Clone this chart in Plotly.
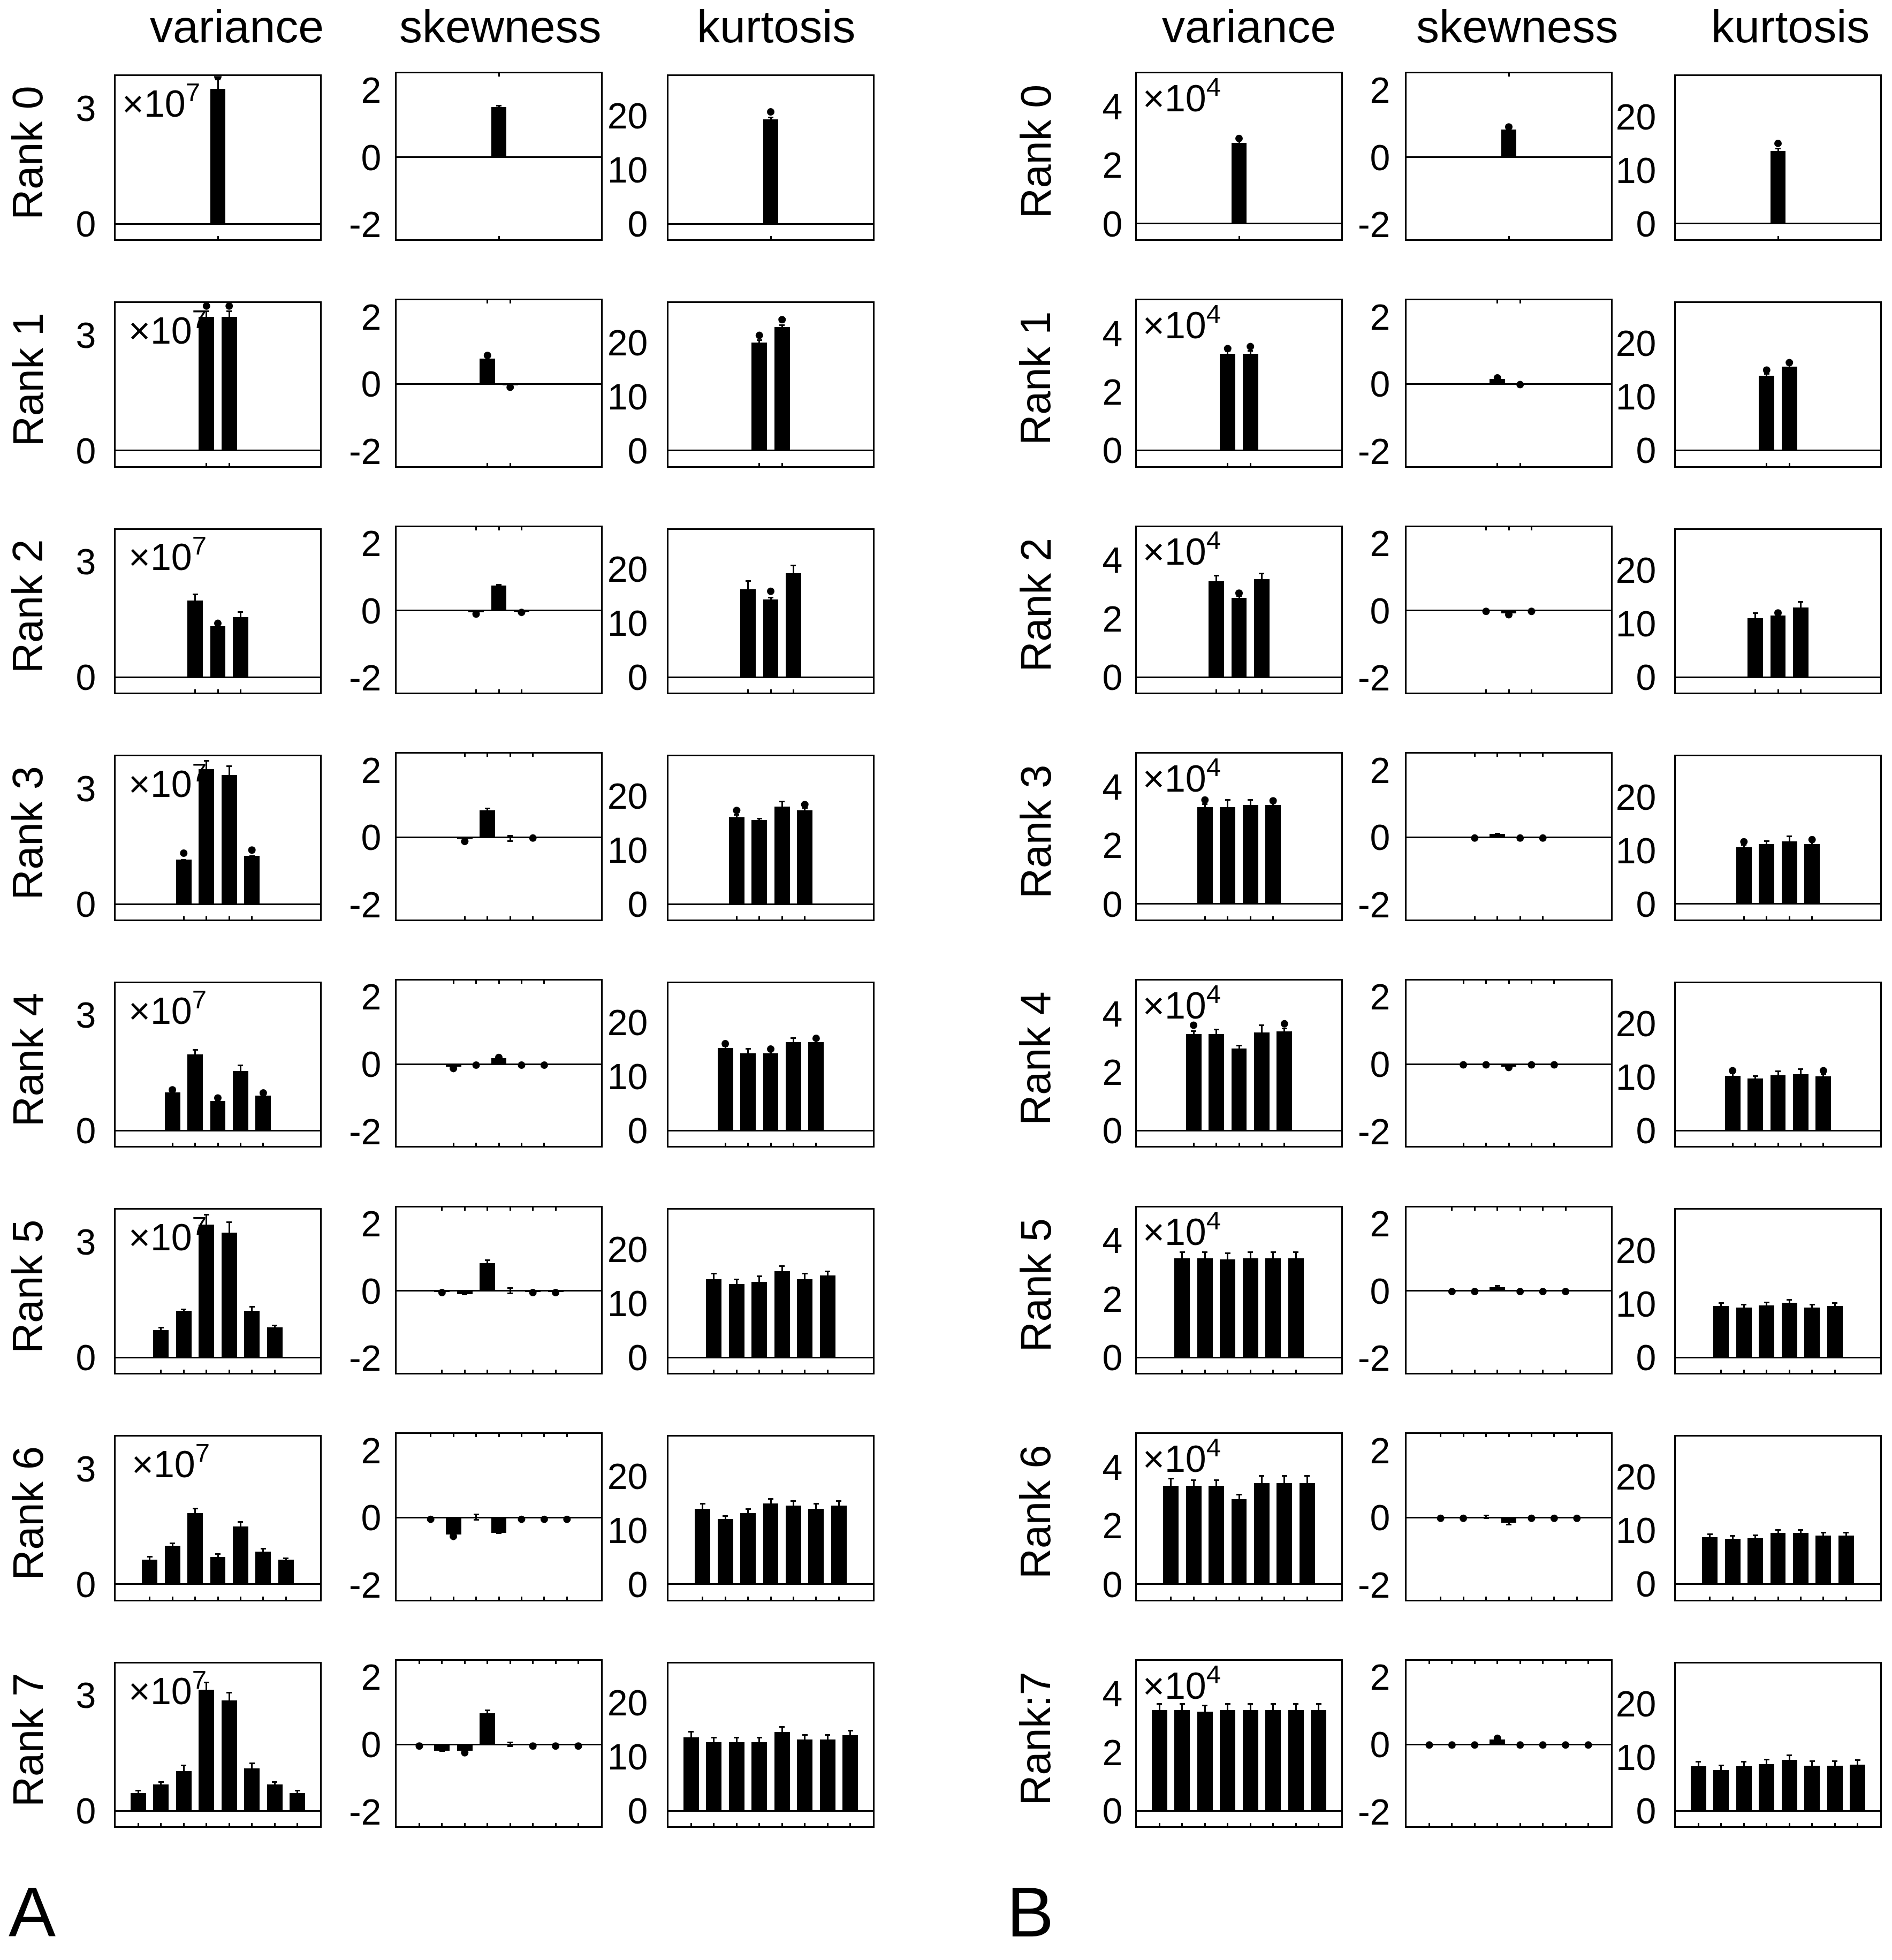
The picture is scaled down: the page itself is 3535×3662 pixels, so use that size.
import plotly.graph_objects as go

W, H = 3535, 3662

# ---------------- data ----------------
ranks_A = ["Rank 0", "Rank 1", "Rank 2", "Rank 3", "Rank 4", "Rank 5", "Rank 6", "Rank 7"]
ranks_B = ["Rank 0", "Rank 1", "Rank 2", "Rank 3", "Rank 4", "Rank 5", "Rank 6", "Rank:7"]
stat_titles = ["variance", "skewness", "kurtosis"]

# Panel A, variance (x10^7)
A_var_mean = [
    [3.49],
    [3.47, 3.47],
    [2.0, 1.33, 1.57],
    [1.15, 3.5, 3.35, 1.25],
    [0.99, 1.98, 0.78, 1.55, 0.92],
    [0.71, 1.2, 3.44, 3.23, 1.2, 0.78],
    [0.64, 0.99, 1.85, 0.71, 1.5, 0.85, 0.64],
    [0.47, 0.69, 1.04, 3.15, 2.87, 1.11, 0.69, 0.47],
]
A_var_err = [
    [0.25],
    [0.15, 0.15],
    [0.15, 0.0, 0.12],
    [0.0, 0.22, 0.22, 0.0],
    [0.0, 0.12, 0.0, 0.14, 0.0],
    [0.07, 0.05, 0.27, 0.28, 0.11, 0.05],
    [0.07, 0.07, 0.11, 0.07, 0.12, 0.07, 0.03],
    [0.06, 0.06, 0.14, 0.19, 0.2, 0.13, 0.06, 0.06],
]
A_var_dot = [
    [3.82],
    [3.75, 3.75],
    [None, 1.4, None],
    [1.32, None, None, 1.4],
    [1.06, None, 0.85, None, 0.98],
    [None, None, None, None, None, None],
    [None, None, None, None, None, None, None],
    [None, None, None, None, None, None, None, None],
]

# Panel A, skewness
A_skew_mean = [
    [1.48],
    [0.75, -0.05],
    [-0.05, 0.75, -0.02],
    [-0.05, 0.8, -0.03, 0.0],
    [-0.08, 0.0, 0.18, 0.0, 0.0],
    [-0.02, -0.09, 0.83, 0.0, -0.02, -0.02],
    [-0.03, -0.5, 0.02, -0.45, -0.03, -0.03, -0.03],
    [-0.03, -0.18, -0.18, 0.93, 0.0, -0.03, -0.03, -0.03],
]
A_skew_err = [
    [0.06],
    [0.05, 0.05],
    [0.03, 0.03, 0.02],
    [0.03, 0.06, 0.08, 0.0],
    [0.02, 0.02, 0.03, 0.02, 0.02],
    [0.02, 0.02, 0.08, 0.08, 0.02, 0.02],
    [0.02, 0.05, 0.08, 0.02, 0.02, 0.02, 0.02],
    [0.02, 0.02, 0.03, 0.08, 0.06, 0.02, 0.02, 0.02],
]
A_skew_dot = [
    [None],
    [0.85, -0.1],
    [-0.1, None, -0.05],
    [-0.12, None, None, -0.02],
    [-0.13, -0.03, 0.2, -0.03, -0.03],
    [-0.05, None, None, None, -0.05, -0.05],
    [-0.05, -0.56, None, None, -0.05, -0.05, -0.05],
    [-0.05, None, -0.25, None, None, -0.05, -0.05, -0.05],
]

# Panel A, kurtosis
A_kurt_mean = [
    [19.3],
    [20.0, 22.8],
    [16.3, 14.4, 19.3],
    [16.0, 15.5, 18.0, 17.3],
    [15.3, 14.3, 14.3, 16.4, 16.4],
    [14.4, 13.5, 13.9, 15.9, 14.4, 15.1],
    [13.9, 12.1, 13.1, 14.9, 14.5, 13.9, 14.5],
    [13.6, 12.7, 12.7, 12.7, 14.6, 13.2, 13.2, 14.0],
]
A_kurt_err = [
    [0.4],
    [0.4, 0.4],
    [1.5, 0.3, 1.4],
    [0.5, 0.3, 1.0, 0.5],
    [0.4, 0.9, 0.4, 0.7, 0.4],
    [1.1, 0.9, 1.1, 1.0, 1.1, 0.8],
    [1.0, 0.5, 0.8, 0.9, 0.9, 1.0, 0.9],
    [1.1, 0.9, 0.9, 0.9, 0.9, 0.9, 0.9, 0.9],
]
A_kurt_dot = [
    [20.7],
    [21.3, 24.2],
    [None, 15.9, None],
    [17.3, None, None, 18.4],
    [16.1, None, 15.1, None, 17.1],
    [None, None, None, None, None, None],
    [None, None, None, None, None, None, None],
    [None, None, None, None, None, None, None, None],
]

# Panel B, variance (x10^4)
B_var_mean = [
    [2.76],
    [3.3, 3.3],
    [3.28, 2.72, 3.36],
    [3.3, 3.3, 3.38, 3.38],
    [3.3, 3.3, 2.8, 3.35, 3.4],
    [3.4, 3.4, 3.35, 3.4, 3.4, 3.4],
    [3.35, 3.35, 3.35, 2.9, 3.45, 3.45, 3.45],
    [3.45, 3.45, 3.4, 3.45, 3.45, 3.45, 3.45, 3.45],
]
B_var_err = [
    [0.1],
    [0.1, 0.1],
    [0.18, 0.05, 0.19],
    [0.1, 0.25, 0.17, 0.1],
    [0.1, 0.15, 0.1, 0.25, 0.1],
    [0.2, 0.2, 0.2, 0.2, 0.2, 0.2],
    [0.25, 0.2, 0.2, 0.15, 0.25, 0.25, 0.25],
    [0.2, 0.2, 0.2, 0.2, 0.2, 0.2, 0.2, 0.2],
]
B_var_dot = [
    [2.91],
    [3.48, 3.55],
    [None, 2.87, None],
    [3.55, None, None, 3.52],
    [3.6, None, None, None, 3.65],
    [None, None, None, None, None, None],
    [None, None, None, None, None, None, None],
    [None, None, None, None, None, None, None, None],
]

# Panel B, skewness
B_skew_mean = [
    [0.82],
    [0.15, 0.0],
    [0.0, -0.08, 0.0],
    [0.0, 0.1, 0.0, 0.0],
    [0.0, 0.0, -0.08, 0.0, 0.0],
    [0.0, 0.0, 0.12, 0.0, 0.0, 0.0],
    [0.0, 0.0, 0.02, -0.15, 0.0, 0.0, 0.0],
    [0.0, 0.0, 0.0, 0.15, 0.0, 0.0, 0.0, 0.0],
]
B_skew_err = [
    [0.03],
    [0.02, 0.02],
    [0.02, 0.02, 0.02],
    [0.02, 0.02, 0.02, 0.02],
    [0.02, 0.02, 0.02, 0.02, 0.02],
    [0.02, 0.02, 0.03, 0.02, 0.02, 0.02],
    [0.02, 0.02, 0.04, 0.05, 0.02, 0.02, 0.02],
    [0.02, 0.02, 0.02, 0.03, 0.02, 0.02, 0.02, 0.02],
]
B_skew_dot = [
    [0.9],
    [0.18, -0.02],
    [-0.02, -0.12, -0.02],
    [-0.02, None, -0.02, -0.02],
    [-0.02, -0.02, -0.1, -0.02, -0.02],
    [-0.02, -0.02, None, -0.02, -0.02, -0.02],
    [-0.02, -0.02, None, None, -0.02, -0.02, -0.02],
    [-0.02, -0.02, -0.02, 0.18, -0.02, -0.02, -0.02, -0.02],
]

# Panel B, kurtosis
B_kurt_mean = [
    [13.6],
    [14.0, 15.7],
    [11.1, 11.6, 13.1],
    [10.6, 11.2, 11.7, 11.2],
    [10.3, 9.8, 10.4, 10.6, 10.2],
    [9.6, 9.3, 9.7, 10.2, 9.3, 9.6],
    [8.8, 8.5, 8.6, 9.6, 9.6, 9.1, 9.1],
    [8.4, 7.7, 8.4, 8.8, 9.6, 8.5, 8.5, 8.7],
]
B_kurt_err = [
    [0.4],
    [0.3, 0.3],
    [0.9, 0.3, 1.0],
    [0.4, 0.5, 0.9, 0.4],
    [0.4, 0.4, 0.7, 0.9, 0.4],
    [0.6, 0.6, 0.6, 0.6, 0.6, 0.6],
    [0.5, 0.5, 0.5, 0.5, 0.5, 0.5, 0.5],
    [0.8, 0.8, 0.8, 0.8, 0.8, 0.8, 0.8, 0.8],
]
B_kurt_dot = [
    [15.0],
    [15.0, 16.4],
    [None, 12.0, None],
    [11.6, None, None, 12.0],
    [11.2, None, None, None, 11.2],
    [None, None, None, None, None, None],
    [None, None, None, None, None, None, None],
    [None, None, None, None, None, None, None, None],
]

# axis settings per (panel, stat)
y_ranges = {
    ("A", 0): [-0.40, 3.83], ("A", 1): [-2.44, 2.49], ("A", 2): [-2.85, 27.3],
    ("B", 0): [-0.53, 5.13], ("B", 1): [-2.44, 2.49], ("B", 2): [-2.9, 27.55],
}
y_labels = {
    ("A", 0): [0, 3], ("A", 1): [-2, 0, 2], ("A", 2): [0, 10, 20],
    ("B", 0): [0, 2, 4], ("B", 1): [-2, 0, 2], ("B", 2): [0, 10, 20],
}
y_right_ticks = {
    ("A", 0): [0, 1, 2, 3], ("A", 1): [-2, 0, 2], ("A", 2): [0, 10, 20],
    ("B", 0): [0, 2, 4], ("B", 1): [-2, 0, 2], ("B", 2): [0, 10, 20],
}
exponent_text = {"A": "×10<sup>7</sup>", "B": "×10<sup>4</sup>"}

data = {
    "A": [(A_var_mean, A_var_err, A_var_dot), (A_skew_mean, A_skew_err, A_skew_dot),
          (A_kurt_mean, A_kurt_err, A_kurt_dot)],
    "B": [(B_var_mean, B_var_err, B_var_dot), (B_skew_mean, B_skew_err, B_skew_dot),
          (B_kurt_mean, B_kurt_err, B_kurt_dot)],
}

# ---------------- geometry (pixels) ----------------
ROW_PITCH = 425.6
BOX_W = 382
BOX_BOTTOM0 = 442
col_left = {("A", 0): 216, ("A", 1): 741, ("A", 2): 1249,
            ("B", 0): 2124, ("B", 1): 2628, ("B", 2): 3131}
col_top0 = {("A", 0): 136, ("A", 1): 131, ("A", 2): 136,
            ("B", 0): 131, ("B", 1): 131, ("B", 2): 136}
label_standoff = {("A", 0): 20, ("A", 1): 12, ("A", 2): 22,
                  ("B", 0): 10, ("B", 1): 14, ("B", 2): 20}
title_x = {("A", 0): 442, ("A", 1): 935, ("A", 2): 1450,
           ("B", 0): 2333, ("B", 1): 2835, ("B", 2): 3345}
rank_label_x = {"A": 52, "B": 1935}
panel_letter_x = {"A": 60, "B": 1925}
exp_dx_A = [10, 22, 22, 22, 22, 22, 28, 22]
exp_dx_B = [9] * 8

FONT = "Liberation Sans, Arial, sans-serif"
TICK_SIZE = 68

fig = go.Figure()
layout = {}
annotations = []
n_sub = 48

idx = 0
for panel in ["A", "B"]:
    for s in range(3):
        means, errs, dots = data[panel][s]
        for r in range(8):
            i = idx + 1
            xid = "x" if i == 1 else f"x{i}"
            yid = "y" if i == 1 else f"y{i}"
            pos = [k - r / 2 for k in range(r + 1)]
            left = col_left[(panel, s)]
            top = col_top0[(panel, s)] + r * ROW_PITCH
            bottom = BOX_BOTTOM0 + r * ROW_PITCH
            xdom = [left / W, (left + BOX_W) / W]
            ydom = [1 - bottom / H, 1 - top / H]

            fig.add_trace(go.Bar(
                x=pos, y=means[r], width=0.68,
                marker=dict(color="black", line=dict(width=0)),
                error_y=dict(type="data", array=errs[r], symmetric=True,
                             color="black", thickness=3, width=5),
                xaxis=xid, yaxis=yid, showlegend=False, hoverinfo="skip"))
            if any(v is not None for v in dots[r]):
                fig.add_trace(go.Scatter(
                    x=pos, y=dots[r], mode="markers",
                    marker=dict(color="black", size=14),
                    xaxis=xid, yaxis=yid, showlegend=False, hoverinfo="skip"))

            layout["xaxis" if i == 1 else f"xaxis{i}"] = dict(
                domain=xdom, anchor=yid, range=[-4.5, 4.5], fixedrange=True,
                tickmode="array", tickvals=pos, ticks="inside", ticklen=6,
                tickwidth=3, tickcolor="black", showticklabels=False,
                showline=True, linewidth=3, linecolor="black",
                mirror="ticks" if s == 1 else True,
                showgrid=False, zeroline=False)
            yr = y_ranges[(panel, s)]
            layout["yaxis" if i == 1 else f"yaxis{i}"] = dict(
                domain=ydom, anchor=xid, range=yr, fixedrange=True,
                tickmode="array", tickvals=y_labels[(panel, s)],
                ticktext=[str(v) for v in y_labels[(panel, s)]],
                ticks="", ticklabelstandoff=label_standoff[(panel, s)],
                tickfont=dict(family=FONT, size=TICK_SIZE, color="black"),
                showline=True, linewidth=3, linecolor="black", mirror=True,
                showgrid=False, zeroline=True, zerolinewidth=3,
                zerolinecolor="black")
            layout[f"yaxis{i + n_sub}"] = dict(
                overlaying=yid, side="right", anchor=xid, range=yr,
                fixedrange=True, tickmode="array",
                tickvals=y_right_ticks[(panel, s)], ticks="inside", ticklen=6,
                tickwidth=3, tickcolor="black", showticklabels=False,
                showline=False, showgrid=False, zeroline=False)

            if s == 0:
                dx = (exp_dx_A if panel == "A" else exp_dx_B)[r]
                cap_mid = top + (47 if panel == "A" else 42)
                annotations.append(dict(
                    text=exponent_text[panel], xref="paper", yref="paper",
                    x=(left + dx) / W, y=1 - cap_mid / H,
                    xanchor="left", yanchor="middle", showarrow=False,
                    font=dict(family=FONT, size=70, color="black")))
                rank_names = ranks_A if panel == "A" else ranks_B
                annotations.append(dict(
                    text=rank_names[r], xref="paper", yref="paper",
                    x=rank_label_x[panel] / W,
                    y=1 - ((top + bottom) / 2 - 9) / H,
                    xanchor="center", yanchor="middle", textangle=-90,
                    showarrow=False,
                    font=dict(family=FONT, size=79, color="black")))
            idx += 1

        annotations.append(dict(
            text=stat_titles[s], xref="paper", yref="paper",
            x=title_x[(panel, s)] / W, y=1 - 42 / H,
            xanchor="center", yanchor="middle", showarrow=False,
            font=dict(family=FONT, size=86, color="black")))
    annotations.append(dict(
        text=panel, xref="paper", yref="paper",
        x=panel_letter_x[panel] / W, y=1 - 3658 / H,
        xanchor="center", yanchor="bottom", showarrow=False,
        font=dict(family=FONT, size=132, color="black")))

fig.update_layout(**layout)
fig.update_layout(
    width=W, height=H, autosize=False,
    margin=dict(l=0, r=0, t=0, b=0, pad=0),
    paper_bgcolor="white", plot_bgcolor="white",
    showlegend=False, bargap=0, annotations=annotations,
    font=dict(family=FONT, color="black"),
)

fig.write_html("out.html", config={"displayModeBar": False},
               post_script="document.body.style.margin='0px';")
